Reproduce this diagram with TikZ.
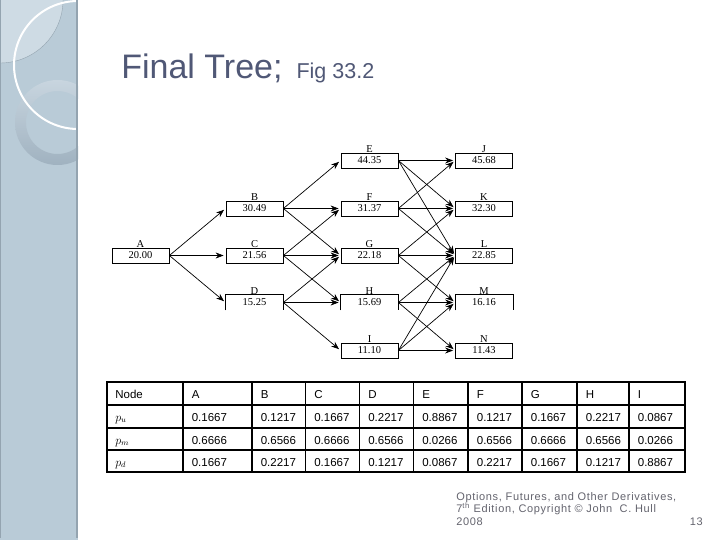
\documentclass[tikz,border=0pt]{standalone}
\usepackage{fontspec}
\setmainfont{Liberation Sans}
\newfontfamily\treefont{Liberation Serif}
\newfontfamily\footfont[LetterSpace=6]{Liberation Sans}
\usetikzlibrary{arrows.meta}
\definecolor{bandblue}{RGB}{185,203,215}
\definecolor{bandlight}{RGB}{206,219,228}
\definecolor{bandedge}{RGB}{148,164,176}
\definecolor{ringtop}{RGB}{200,213,223}
\definecolor{ringbottom}{RGB}{160,178,192}
\definecolor{titleslate}{RGB}{80,88,118}
\definecolor{footgray}{RGB}{100,100,110}

\begin{document}
\begin{tikzpicture}[
  x=1pt,y=-1pt,
  every node/.style={inner sep=0pt},
  every label/.style={font=\treefont\fontsize{10.5}{12}\selectfont},
  box/.style={draw,line width=0.8pt,minimum width=57pt,minimum height=15pt,
    font=\treefont\fontsize{10.5}{12}\selectfont,label distance=2pt},
  openbox/.style={box,draw=none},
  cell/.style={anchor=base west,font=\fontsize{11.5}{13}\selectfont},
  ->,>={Stealth[length=8pt,width=6pt]},shorten >=2pt,line width=0.7pt]
  \useasboundingbox(0,0) rectangle (720,540);
  \fill[white](0,0) rectangle (720,540);
  \fill[bandblue](0,0) rectangle (78,540);
  \begin{scope}
    \clip(0,0) rectangle (78,540);
    \fill[bandlight](0,0) circle (63);
    \draw[-,bandedge,line width=0.4pt](0,0) circle (63);
    \shade[top color=ringtop,bottom color=ringbottom,even odd rule]
      (57.5,122.5) circle (42.5) (57.5,122.5) circle (31.5);
    \draw[-,white,line width=2pt](78,65) circle (64);
  \end{scope}
  \draw[-,bandedge,line width=2pt](77,0)--(77,540);
  \draw[-,bandedge,line width=1pt](0.5,0)--(0.5,540);

  \node[anchor=base west,text=titleslate,font=\fontsize{34}{40}\selectfont](title) at(121,79)
    {Final Tree;\hspace{14pt}{\fontsize{21.5}{24}\selectfont Fig 33.2}};

  \node[box,label=above:A](A) at(140.5,255.5){20.00};
  \node[box,label=above:B](B) at(254.5,208.5){30.49};
  \node[box,label=above:C](C) at(254.5,255.5){21.56};
  \node[openbox,label=above:D](D) at(254.5,302.5){15.25};
  \node[box,label=above:E](E) at(369.5,160.5){44.35};
  \node[box,label=above:F](F) at(369.5,208.5){31.37};
  \node[box,label=above:G](G) at(369.5,255.5){22.18};
  \node[openbox,label=above:H](H) at(369.5,302.5){15.69};
  \node[box,label=above:I](I) at(369.5,350.5){11.10};
  \node[box,label=above:J](J) at(484,160.5){45.68};
  \node[box,label=above:K](K) at(484,208.5){32.30};
  \node[box,label=above:L](L) at(484,255.5){22.85};
  \node[openbox,label=above:M](M) at(484,302.5){16.16};
  \node[box,label=above:N](N) at(484,350.5){11.43};
  \draw[-,shorten >=0pt,line width=0.8pt](D.south west)|-(D.north east)--(D.south east);
  \draw[-,shorten >=0pt,line width=0.8pt](H.south west)|-(H.north east)--(H.south east);
  \draw[-,shorten >=0pt,line width=0.8pt](M.south west)|-(M.north east)--(M.south east);

  \draw(A.east)--(B.west);\draw(A.east)--(C.west);\draw(A.east)--(D.west);
  \draw(B.east)--(E.west);\draw(B.east)--(F.west);\draw(B.east)--(G.west);
  \draw(C.east)--(F.west);\draw(C.east)--(G.west);\draw(C.east)--(H.west);
  \draw(D.east)--(G.west);\draw(D.east)--(H.west);\draw(D.east)--(I.west);
  \draw(E.east)--(J.west);\draw(E.east)--(K.west);\draw(E.east)--(L.west);
  \draw(F.east)--(J.west);\draw(F.east)--(K.west);\draw(F.east)--(L.west);
  \draw(G.east)--(K.west);\draw(G.east)--(L.west);\draw(G.east)--(M.west);
  \draw(H.east)--(L.west);\draw(H.east)--(M.west);\draw(H.east)--(N.west);
  \draw(I.east)--(L.west);\draw(I.east)--(M.west);\draw(I.east)--(N.west);

  \draw[-,shorten >=0pt,line width=1.2pt]
    \foreach \x in {183,252,305.5,359.5,413.5,468,522,577,629}{(\x,382)--(\x,472)}
    \foreach \y in {405,428,450}{(107,\y)--(685,\y)};
  \draw[-,shorten >=0pt,line width=2.2pt](107,382) rectangle (685,472);

  \node[cell](hd) at(115,398){Node};
  \node[cell](pu) at(115,421){\(p_u\)};
  \node[cell](pm) at(115,444){\(p_m\)};
  \node[cell](pd) at(115,466){\(p_d\)};
  \foreach \x/\t [count=\i] in {183/A,252/B,305.5/C,359.5/D,413.5/E,468/F,522/G,577/H,629/I}
    \node[cell](hd\i) at(\x+8.5,398){\t};
  \foreach \x/\t [count=\i] in {183/0.1667,252/0.1217,305.5/0.1667,359.5/0.2217,413.5/0.8867,468/0.1217,522/0.1667,577/0.2217,629/0.0867}
    \node[cell](pu\i) at(\x+8.5,421){\t};
  \foreach \x/\t [count=\i] in {183/0.6666,252/0.6566,305.5/0.6666,359.5/0.6566,413.5/0.0266,468/0.6566,522/0.6666,577/0.6566,629/0.0266}
    \node[cell](pm\i) at(\x+8.5,444){\t};
  \foreach \x/\t [count=\i] in {183/0.1667,252/0.2217,305.5/0.1667,359.5/0.1217,413.5/0.0867,468/0.2217,522/0.1667,577/0.1217,629/0.8867}
    \node[cell](pd\i) at(\x+8.5,466){\t};

  \node[anchor=base west,align=left,text=footgray,font=\footfont\fontsize{11}{12.5}\selectfont](cite) at(456,525)
    {Options, Futures, and Other Derivatives,\\7\textsuperscript{th} Edition, Copyright \textcopyright\ John\ \ C. Hull\\2008};
  \node[anchor=base east,text=footgray,font=\footfont\fontsize{11}{12.5}\selectfont](page) at(703,525){13};
\end{tikzpicture}
\end{document}
